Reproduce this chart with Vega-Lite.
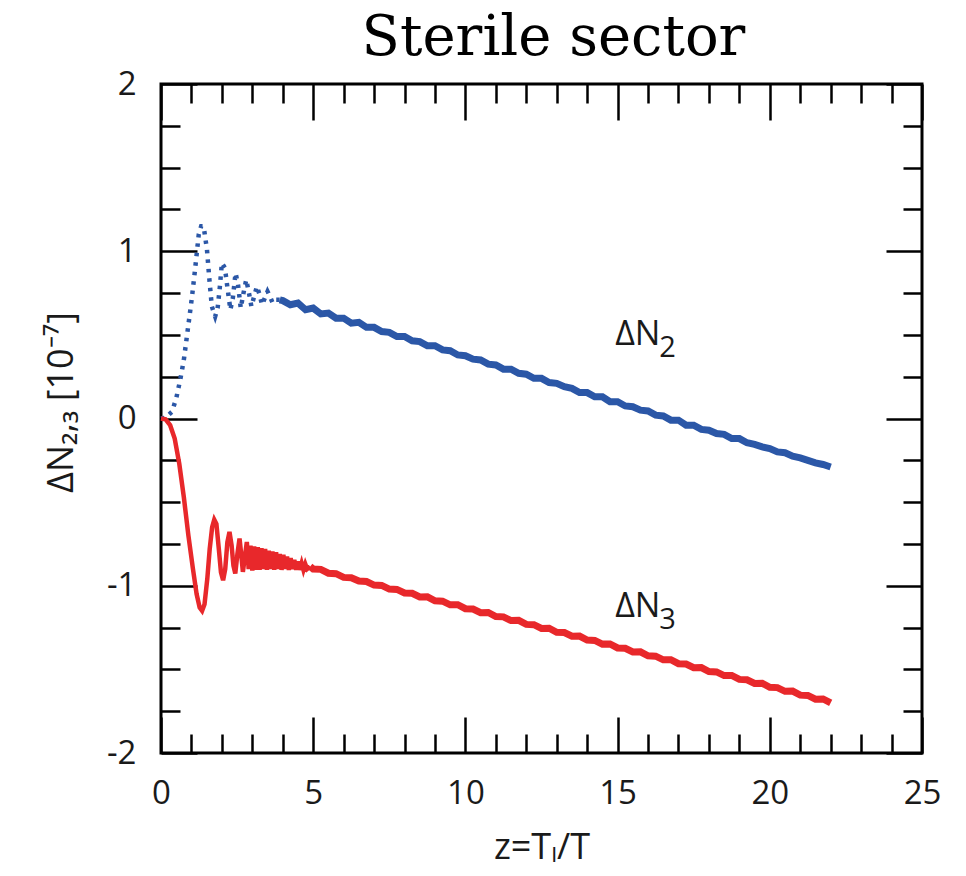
{
  "$schema": "https://vega.github.io/schema/vega-lite/v6.json",
  "autosize": "none",
  "width": 761,
  "height": 669,
  "padding": {"left": 161, "top": 84, "right": 44, "bottom": 123},
  "background": "white",
  "title": {"text": "Sterile sector", "font": "DejaVu Serif", "fontSize": 56, "fontWeight": "normal", "color": "black", "anchor": "middle", "dx": 12, "offset": 1},
  "config": {
    "view": {"stroke": "black", "strokeWidth": 3},
    "axis": {"domain": false, "grid": false, "tickColor": "black", "tickWidth": 2.5, "labelFont": "Open Sans", "labelFontSize": 33, "labelColor": "#1a1a1a", "titleFont": "Open Sans", "titleFontSize": 36, "titleFontWeight": "normal", "titleColor": "#1a1a1a", "labelFlush": false, "labelOverlap": false}
  },
  "datasets": {
    "blueEarly": [
      {"z": 0, "v": 0}, {"z": 0.15, "v": 0.005}, {"z": 0.36, "v": 0.04}, {"z": 0.5, "v": 0.12}, {"z": 0.63, "v": 0.23}, {"z": 0.75, "v": 0.35}, {"z": 0.85, "v": 0.49}, {"z": 0.95, "v": 0.63}, {"z": 1.02, "v": 0.73}, {"z": 1.13, "v": 0.91}, {"z": 1.24, "v": 1.1}, {"z": 1.32, "v": 1.15}, {"z": 1.4, "v": 1.15}, {"z": 1.51, "v": 1.01}, {"z": 1.59, "v": 0.83}, {"z": 1.67, "v": 0.67}, {"z": 1.78, "v": 0.61}, {"z": 1.86, "v": 0.66}, {"z": 1.93, "v": 0.78}, {"z": 2.0, "v": 0.93}, {"z": 2.1, "v": 0.9}, {"z": 2.17, "v": 0.8}, {"z": 2.28, "v": 0.65}, {"z": 2.36, "v": 0.72}, {"z": 2.45, "v": 0.87}, {"z": 2.53, "v": 0.8}, {"z": 2.62, "v": 0.66}, {"z": 2.71, "v": 0.75}, {"z": 2.8, "v": 0.83}, {"z": 2.88, "v": 0.76}, {"z": 2.97, "v": 0.67}, {"z": 3.06, "v": 0.73}, {"z": 3.15, "v": 0.79}, {"z": 3.24, "v": 0.74}, {"z": 3.32, "v": 0.68}, {"z": 3.41, "v": 0.72}, {"z": 3.5, "v": 0.76}, {"z": 3.58, "v": 0.73}, {"z": 3.67, "v": 0.69}, {"z": 3.78, "v": 0.71}, {"z": 3.9, "v": 0.71}
    ],
    "blueLate": [
      {"z": 3.9, "v": 0.71}, {"z": 4.0, "v": 0.705}, {"z": 4.25, "v": 0.68}, {"z": 4.5, "v": 0.69}, {"z": 4.75, "v": 0.65}, {"z": 5.0, "v": 0.66}, {"z": 5.25, "v": 0.625}, {"z": 5.5, "v": 0.63}, {"z": 5.75, "v": 0.6}, {"z": 6.0, "v": 0.6}, {"z": 6.25, "v": 0.57}, {"z": 6.5, "v": 0.575}, {"z": 6.75, "v": 0.545}, {"z": 7.0, "v": 0.545}, {"z": 7.25, "v": 0.52}, {"z": 7.5, "v": 0.515}, {"z": 7.75, "v": 0.49}, {"z": 8.0, "v": 0.49}, {"z": 8.25, "v": 0.465}, {"z": 8.5, "v": 0.46}, {"z": 8.75, "v": 0.435}, {"z": 9.0, "v": 0.435}, {"z": 9.25, "v": 0.41}, {"z": 9.5, "v": 0.405}, {"z": 9.75, "v": 0.38}, {"z": 10.0, "v": 0.375}, {"z": 10.25, "v": 0.355}, {"z": 10.5, "v": 0.35}, {"z": 10.75, "v": 0.325}, {"z": 11.0, "v": 0.32}, {"z": 11.25, "v": 0.295}, {"z": 11.5, "v": 0.295}, {"z": 11.75, "v": 0.27}, {"z": 12.0, "v": 0.265}, {"z": 12.25, "v": 0.24}, {"z": 12.5, "v": 0.24}, {"z": 12.75, "v": 0.215}, {"z": 13.0, "v": 0.21}, {"z": 13.25, "v": 0.19}, {"z": 13.5, "v": 0.18}, {"z": 13.75, "v": 0.155}, {"z": 14.0, "v": 0.155}, {"z": 14.25, "v": 0.13}, {"z": 14.5, "v": 0.13}, {"z": 14.75, "v": 0.1}, {"z": 15.0, "v": 0.1}, {"z": 15.25, "v": 0.075}, {"z": 15.5, "v": 0.07}, {"z": 15.75, "v": 0.05}, {"z": 16.0, "v": 0.045}, {"z": 16.25, "v": 0.02}, {"z": 16.5, "v": 0.015}, {"z": 16.75, "v": -0.01}, {"z": 17.0, "v": -0.01}, {"z": 17.25, "v": -0.04}, {"z": 17.5, "v": -0.04}, {"z": 17.75, "v": -0.065}, {"z": 18.0, "v": -0.07}, {"z": 18.25, "v": -0.09}, {"z": 18.5, "v": -0.095}, {"z": 18.75, "v": -0.12}, {"z": 19.0, "v": -0.12}, {"z": 19.25, "v": -0.145}, {"z": 19.5, "v": -0.155}, {"z": 19.75, "v": -0.17}, {"z": 20.0, "v": -0.18}, {"z": 20.25, "v": -0.2}, {"z": 20.5, "v": -0.205}, {"z": 20.75, "v": -0.225}, {"z": 21.0, "v": -0.235}, {"z": 21.25, "v": -0.25}, {"z": 21.5, "v": -0.265}, {"z": 21.75, "v": -0.275}, {"z": 22.0, "v": -0.29}
    ],
    "redEarly": [
      {"z": 0, "v": 0}, {"z": 0.15, "v": -0.005}, {"z": 0.3, "v": -0.04}, {"z": 0.45, "v": -0.12}, {"z": 0.6, "v": -0.27}, {"z": 0.75, "v": -0.47}, {"z": 0.9, "v": -0.7}, {"z": 1.05, "v": -0.9}, {"z": 1.17, "v": -1.05}, {"z": 1.27, "v": -1.13}, {"z": 1.35, "v": -1.15}, {"z": 1.43, "v": -1.11}, {"z": 1.52, "v": -0.96}, {"z": 1.6, "v": -0.78}, {"z": 1.68, "v": -0.65}, {"z": 1.75, "v": -0.605}, {"z": 1.82, "v": -0.63}, {"z": 1.9, "v": -0.78}, {"z": 1.97, "v": -0.92}, {"z": 2.04, "v": -0.967}, {"z": 2.11, "v": -0.9}, {"z": 2.18, "v": -0.74}, {"z": 2.25, "v": -0.678}, {"z": 2.32, "v": -0.76}, {"z": 2.38, "v": -0.88}, {"z": 2.44, "v": -0.927}, {"z": 2.51, "v": -0.81}, {"z": 2.58, "v": -0.718}, {"z": 2.64, "v": -0.82}, {"z": 2.69, "v": -0.917}, {"z": 2.76, "v": -0.82}, {"z": 2.82, "v": -0.738},
      {"z": 2.88, "v": -0.9}, {"z": 2.94, "v": -0.76}, {"z": 3.0, "v": -0.91}, {"z": 3.06, "v": -0.765}, {"z": 3.12, "v": -0.905}, {"z": 3.18, "v": -0.77}, {"z": 3.24, "v": -0.905}, {"z": 3.3, "v": -0.775}, {"z": 3.36, "v": -0.9}, {"z": 3.42, "v": -0.78}, {"z": 3.48, "v": -0.905}, {"z": 3.54, "v": -0.79}, {"z": 3.6, "v": -0.9}, {"z": 3.66, "v": -0.795}, {"z": 3.72, "v": -0.905}, {"z": 3.78, "v": -0.8}, {"z": 3.84, "v": -0.9}, {"z": 3.9, "v": -0.81}, {"z": 3.96, "v": -0.905}, {"z": 4.02, "v": -0.815}, {"z": 4.08, "v": -0.9}, {"z": 4.14, "v": -0.825}, {"z": 4.2, "v": -0.905}, {"z": 4.26, "v": -0.835}, {"z": 4.32, "v": -0.9}, {"z": 4.38, "v": -0.845}, {"z": 4.44, "v": -0.905}, {"z": 4.5, "v": -0.855}, {"z": 4.56, "v": -0.905}, {"z": 4.62, "v": -0.865}, {"z": 4.68, "v": -0.905}, {"z": 4.74, "v": -0.87}, {"z": 4.8, "v": -0.9}, {"z": 4.9, "v": -0.885}
    ],
    "redLate": [
      {"z": 4.9, "v": -0.885}, {"z": 5.0, "v": -0.9}, {"z": 5.25, "v": -0.902}, {"z": 5.5, "v": -0.925}, {"z": 5.75, "v": -0.928}, {"z": 6.0, "v": -0.95}, {"z": 6.25, "v": -0.952}, {"z": 6.5, "v": -0.972}, {"z": 6.75, "v": -0.975}, {"z": 7.0, "v": -0.996}, {"z": 7.25, "v": -0.998}, {"z": 7.5, "v": -1.02}, {"z": 7.75, "v": -1.022}, {"z": 8.0, "v": -1.043}, {"z": 8.25, "v": -1.045}, {"z": 8.5, "v": -1.067}, {"z": 8.75, "v": -1.066}, {"z": 9.0, "v": -1.09}, {"z": 9.25, "v": -1.092}, {"z": 9.5, "v": -1.114}, {"z": 9.75, "v": -1.113}, {"z": 10.0, "v": -1.137}, {"z": 10.25, "v": -1.139}, {"z": 10.5, "v": -1.161}, {"z": 10.75, "v": -1.16}, {"z": 11.0, "v": -1.184}, {"z": 11.25, "v": -1.186}, {"z": 11.5, "v": -1.208}, {"z": 11.75, "v": -1.207}, {"z": 12.0, "v": -1.231}, {"z": 12.25, "v": -1.233}, {"z": 12.5, "v": -1.255}, {"z": 12.75, "v": -1.254}, {"z": 13.0, "v": -1.278}, {"z": 13.25, "v": -1.28}, {"z": 13.5, "v": -1.302}, {"z": 13.75, "v": -1.301}, {"z": 14.0, "v": -1.325}, {"z": 14.25, "v": -1.327}, {"z": 14.5, "v": -1.349}, {"z": 14.75, "v": -1.348}, {"z": 15.0, "v": -1.372}, {"z": 15.25, "v": -1.374}, {"z": 15.5, "v": -1.396}, {"z": 15.75, "v": -1.395}, {"z": 16.0, "v": -1.419}, {"z": 16.25, "v": -1.421}, {"z": 16.5, "v": -1.443}, {"z": 16.75, "v": -1.442}, {"z": 17.0, "v": -1.466}, {"z": 17.25, "v": -1.468}, {"z": 17.5, "v": -1.49}, {"z": 17.75, "v": -1.489}, {"z": 18.0, "v": -1.513}, {"z": 18.25, "v": -1.515}, {"z": 18.5, "v": -1.537}, {"z": 18.75, "v": -1.536}, {"z": 19.0, "v": -1.56}, {"z": 19.25, "v": -1.562}, {"z": 19.5, "v": -1.584}, {"z": 19.75, "v": -1.583}, {"z": 20.0, "v": -1.607}, {"z": 20.25, "v": -1.609}, {"z": 20.5, "v": -1.631}, {"z": 20.75, "v": -1.63}, {"z": 21.0, "v": -1.654}, {"z": 21.25, "v": -1.656}, {"z": 21.5, "v": -1.678}, {"z": 21.75, "v": -1.677}, {"z": 22.0, "v": -1.7}
    ],
    "labels": [
      {"z": 14.92, "v": 0.44, "main": "ΔN", "sub": "2"},
      {"z": 14.92, "v": -1.187, "main": "ΔN", "sub": "3"}
    ]
  },
  "resolve": {"axis": {"x": "independent", "y": "independent"}},
  "layer": [
    {
      "data": {"name": "blueEarly"},
      "mark": {"type": "line", "color": "#2b57a7", "strokeWidth": 4.5, "strokeDash": [3.5, 6], "strokeCap": "butt"},
      "encoding": {
        "x": {"field": "z", "type": "quantitative", "scale": {"domain": [0, 25], "nice": false, "zero": false},
          "axis": {"orient": "bottom", "values": [0, 5, 10, 15, 20, 25], "ticks": false, "labelPadding": 24, "labelExpr": "'' + datum.value", "title": "z=Tₗ/T", "titlePadding": 20}},
        "y": {"field": "v", "type": "quantitative", "scale": {"domain": [-2, 2], "nice": false, "zero": false},
          "axis": {"orient": "left", "values": [-2, -1, 0, 1, 2], "ticks": false, "labelPadding": 25, "labelExpr": "'' + datum.value", "title": "ΔN₂,₃ [10⁻⁷]", "titlePadding": 26, "titleY": 318}}
      }
    },
    {
      "data": {"name": "blueLate"},
      "mark": {"type": "line", "color": "#2b57a7", "strokeWidth": 7},
      "encoding": {
        "x": {"field": "z", "type": "quantitative", "scale": {"domain": [0, 25], "nice": false, "zero": false},
          "axis": {"orient": "bottom", "values": [0, 5, 10, 15, 20, 25], "tickSize": -36, "labels": false, "title": null}},
        "y": {"field": "v", "type": "quantitative", "scale": {"domain": [-2, 2], "nice": false, "zero": false},
          "axis": {"orient": "left", "values": [-2, -1, 0, 1, 2], "tickSize": -36, "labels": false, "title": null}}
      }
    },
    {
      "data": {"name": "redEarly"},
      "mark": {"type": "line", "color": "#e8282b", "strokeWidth": 4.5},
      "encoding": {
        "x": {"field": "z", "type": "quantitative", "scale": {"domain": [0, 25], "nice": false, "zero": false},
          "axis": {"orient": "bottom", "values": [1, 2, 3, 4, 6, 7, 8, 9, 11, 12, 13, 14, 16, 17, 18, 19, 21, 22, 23, 24], "tickSize": -19, "labels": false, "title": null}},
        "y": {"field": "v", "type": "quantitative", "scale": {"domain": [-2, 2], "nice": false, "zero": false},
          "axis": {"orient": "left", "values": [-1.75, -1.5, -1.25, -0.75, -0.5, -0.25, 0.25, 0.5, 0.75, 1.25, 1.5, 1.75], "tickSize": -19, "labels": false, "title": null}}
      }
    },
    {
      "data": {"name": "redLate"},
      "mark": {"type": "line", "color": "#e8282b", "strokeWidth": 7},
      "encoding": {
        "x": {"field": "z", "type": "quantitative", "scale": {"domain": [0, 25], "nice": false, "zero": false},
          "axis": {"orient": "top", "values": [0, 5, 10, 15, 20, 25], "tickSize": -36, "labels": false, "title": null}},
        "y": {"field": "v", "type": "quantitative", "scale": {"domain": [-2, 2], "nice": false, "zero": false},
          "axis": {"orient": "right", "values": [-2, -1, 0, 1, 2], "tickSize": -36, "labels": false, "title": null}}
      }
    },
    {
      "data": {"name": "labels"},
      "mark": {"type": "text", "font": "Open Sans", "fontSize": 34, "align": "left", "baseline": "alphabetic", "color": "#1a1a1a"},
      "encoding": {
        "x": {"field": "z", "type": "quantitative", "scale": {"domain": [0, 25], "nice": false, "zero": false},
          "axis": {"orient": "top", "values": [1, 2, 3, 4, 6, 7, 8, 9, 11, 12, 13, 14, 16, 17, 18, 19, 21, 22, 23, 24], "tickSize": -19, "labels": false, "title": null}},
        "y": {"field": "v", "type": "quantitative", "scale": {"domain": [-2, 2], "nice": false, "zero": false},
          "axis": {"orient": "right", "values": [-1.75, -1.5, -1.25, -0.75, -0.5, -0.25, 0.25, 0.5, 0.75, 1.25, 1.5, 1.75], "tickSize": -19, "labels": false, "title": null}},
        "text": {"field": "main"}
      }
    },
    {
      "data": {"name": "labels"},
      "mark": {"type": "text", "font": "Open Sans", "fontSize": 29, "align": "left", "baseline": "alphabetic", "color": "#1a1a1a", "dx": 44, "dy": 12},
      "encoding": {
        "x": {"field": "z", "type": "quantitative", "scale": {"domain": [0, 25], "nice": false, "zero": false}, "axis": null},
        "y": {"field": "v", "type": "quantitative", "scale": {"domain": [-2, 2], "nice": false, "zero": false}, "axis": null},
        "text": {"field": "sub"}
      }
    }
  ]
}
